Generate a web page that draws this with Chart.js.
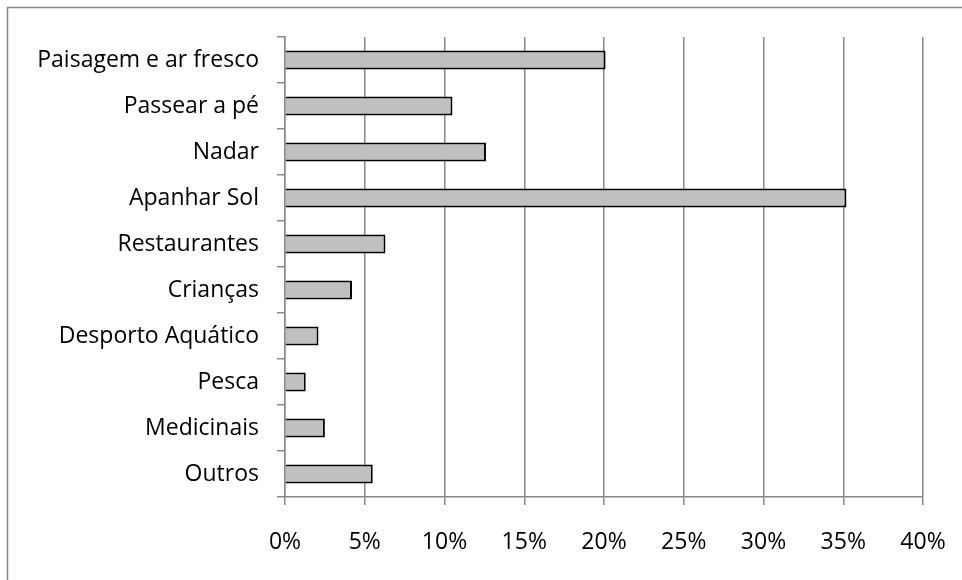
<!DOCTYPE html>
<html>
<head>
<meta charset="utf-8">
<script src="https://cdn.jsdelivr.net/npm/chart.js@4.4.1/dist/chart.umd.min.js"></script>
<style>
  html, body { margin: 0; padding: 0; background: #fff; }
  #wrap { width: 962px; height: 580px; position: relative; }
</style>
</head>
<body>
<div id="wrap"><canvas id="barras"></canvas></div>
<script>
const categorias = [
  "Paisagem e ar fresco",
  "Passear a pé",
  "Nadar",
  "Apanhar Sol",
  "Restaurantes",
  "Crianças",
  "Desporto Aquático",
  "Pesca",
  "Medicinais",
  "Outros"
];
const percentagens = [20.1, 10.5, 12.6, 35.2, 6.3, 4.2, 2.1, 1.3, 2.5, 5.5];
const ticksX = [0, 5, 10, 15, 20, 25, 30, 35, 40];

const fonte = { family: "'Open Sans', sans-serif", size: 23 };

// moldura cinzenta à volta do gráfico
const moldura = {
  id: "moldura",
  beforeDraw(chart) {
    const c = chart.ctx;
    c.save();
    c.strokeStyle = "#868686";
    c.lineWidth = 1.5;
    c.strokeRect(7.5, 7.5, 2000, 2000);
    c.restore();
  }
};

let ctx = document.getElementById("barras");
new Chart(ctx, {
  type: "bar",
  data: {
    labels: categorias,
    datasets: [{
      data: percentagens,
      backgroundColor: "#c0c0c0",
      borderColor: "#000",
      borderWidth: 2,
      barPercentage: 0.41,
      categoryPercentage: 1
    }]
  },
  options: {
    indexAxis: "y",
    responsive: true,
    maintainAspectRatio: false,
    animation: false,
    layout: { padding: { top: 37, right: 39, bottom: 0, left: 0 } },
    plugins: { legend: { display: false }, tooltip: { enabled: false } },
    scales: {
      x: {
        min: 0,
        max: 40,
        afterBuildTicks(scale) {
          scale.ticks = ticksX.map((v) => ({ value: v }));
        },
        afterFit(scale) {
          scale.height = 83;
          scale.paddingLeft = 0;
          scale.paddingRight = 0;
        },
        ticks: {
          color: "#000",
          font: fonte,
          padding: 24,
          callback: (v) => v + "%"
        },
        grid: { color: "#888", lineWidth: 1.5, tickLength: 8 },
        border: { color: "#888", width: 1.5 }
      },
      y: {
        afterFit(scale) {
          scale.width = 285;
          scale.paddingTop = 0;
          scale.paddingBottom = 0;
        },
        ticks: { color: "#000", font: fonte, padding: 18 },
        grid: { drawOnChartArea: false, color: "#888", lineWidth: 1.5, tickLength: 8, offset: true },
        border: { color: "#888", width: 1.5 }
      }
    }
  },
  plugins: [moldura]
});
</script>
</body>
</html>
